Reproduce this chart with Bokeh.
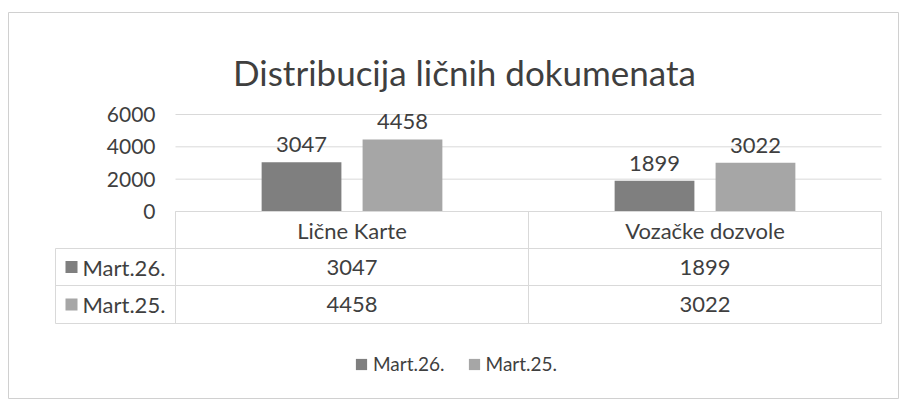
from bokeh.plotting import figure
from bokeh.models import Range1d, Legend, LegendItem
from bokeh.core.properties import value
from bokeh.embed import file_html
from bokeh.resources import INLINE
import numpy as np

# ---- data ----
title_text = "Distribucija ličnih dokumenata"
categories = ["Lične Karte", "Vozačke dozvole"]
series_names = ["Mart.26.", "Mart.25."]
mart26 = [3047, 1899]
mart25 = [4458, 3022]
y_ticks = [0, 2000, 4000, 6000]

# ---- layout constants (pixels) ----
W, H = 900, 403
X0_PX = 175          # px where category axis starts
CAT_PX = 353         # px per category
Y0_PX = 211          # px (from top) of value 0
PX_PER_UNIT = 97 / 6000.0
FONT = "Lato"
TXT = "#3f3f3f"
GRID = "#d9d9d9"
COLORS = ["#7f7f7f", "#a6a6a6"]

def dx(px):
    return (px - X0_PX) / CAT_PX

def dy(py):
    return (Y0_PX - py) / PX_PER_UNIT

p = figure(width=W, height=H, output_backend="svg", toolbar_location=None,
           x_range=Range1d(dx(0), dx(W)), y_range=Range1d(dy(H), dy(0)),
           min_border=0, min_border_left=0, min_border_right=0,
           min_border_top=0, min_border_bottom=0)
p.axis.visible = False
p.grid.visible = False
p.outline_line_color = None
p.background_fill_color = "white"

# chart border
p.quad(left=[dx(8)], right=[dx(898)], top=[dy(12)], bottom=[dy(398)],
       fill_color=None, line_color="#d0d0d0", line_width=1)

n = len(categories)
xc = np.arange(n) + 0.5
bar_w = 0.226
offs = [-0.143, 0.143]

# gridlines
p.segment(x0=[0] * len(y_ticks), x1=[n] * len(y_ticks), y0=y_ticks, y1=y_ticks,
          line_color=GRID, line_width=1)

# y tick labels
p.text(x=[0] * len(y_ticks), y=y_ticks, text=[str(t) for t in y_ticks],
       x_offset=-20, text_align="right", text_baseline="middle",
       text_font=value(FONT), text_font_size="21px", text_color=TXT)

# bars
renderers = []
for vals, off, col in zip([mart26, mart25], offs, COLORS):
    r = p.vbar(x=xc + off, top=vals, bottom=0, width=bar_w,
               fill_color=col, line_color=None)
    renderers.append(r)
    p.text(x=xc + off, y=vals, text=[str(v) for v in vals], y_offset=-10,
           text_align="center", text_baseline="bottom",
           text_font=value(FONT), text_font_size="22px", text_color=TXT)

# title
p.text(x=[dx(464)], y=[dy(71)], text=[title_text], text_align="center",
       text_baseline="middle", text_font=value(FONT), text_font_size="35px",
       text_color=TXT)

# data table
rows_px = [211, 248, 285, 323]
left_px = 55
ry = [dy(r) for r in rows_px]
xl = dx(left_px)
# horizontal lines
p.segment(x0=[0], x1=[n], y0=[ry[0]], y1=[ry[0]], line_color=GRID, line_width=1)
p.segment(x0=[xl] * 3, x1=[n] * 3, y0=ry[1:], y1=ry[1:], line_color=GRID, line_width=1)
# vertical lines
vx = list(range(n + 1))
p.segment(x0=vx, x1=vx, y0=[ry[0]] * len(vx), y1=[ry[3]] * len(vx),
          line_color=GRID, line_width=1)
p.segment(x0=[xl], x1=[xl], y0=[ry[1]], y1=[ry[3]], line_color=GRID, line_width=1)

# header row
p.text(x=xc, y=[(ry[0] + ry[1]) / 2] * n, text=categories, text_align="center",
       text_baseline="middle", text_font=value(FONT), text_font_size="22px",
       text_color=TXT)
# value rows
for i, (vals, col, name) in enumerate(zip([mart26, mart25], COLORS, series_names)):
    yc = (ry[i + 1] + ry[i + 2]) / 2
    p.text(x=xc, y=[yc] * n, text=[str(v) for v in vals], text_align="center",
           text_baseline="middle", text_font=value(FONT), text_font_size="22px",
           text_color=TXT)
    p.scatter(x=[dx(71)], y=[yc], marker="square", size=12, fill_color=col,
              line_color=None)
    p.text(x=[dx(82)], y=[yc], text=[name], text_align="left",
           text_baseline="middle", text_font=value(FONT), text_font_size="22px",
           text_color=TXT)

# bottom legend
legend = Legend(items=[LegendItem(label=nm, renderers=[r]) for nm, r in zip(series_names, renderers)],
                orientation="horizontal", location=(354, 28),
                glyph_width=14, glyph_height=14, label_standoff=5, spacing=22,
                padding=0, margin=0, border_line_alpha=0, background_fill_alpha=0,
                label_text_font=FONT, label_text_font_size="19px",
                label_text_color=TXT, label_height=20)
p.add_layout(legend, "center")

open("out.html", "w").write(file_html(p, INLINE))
